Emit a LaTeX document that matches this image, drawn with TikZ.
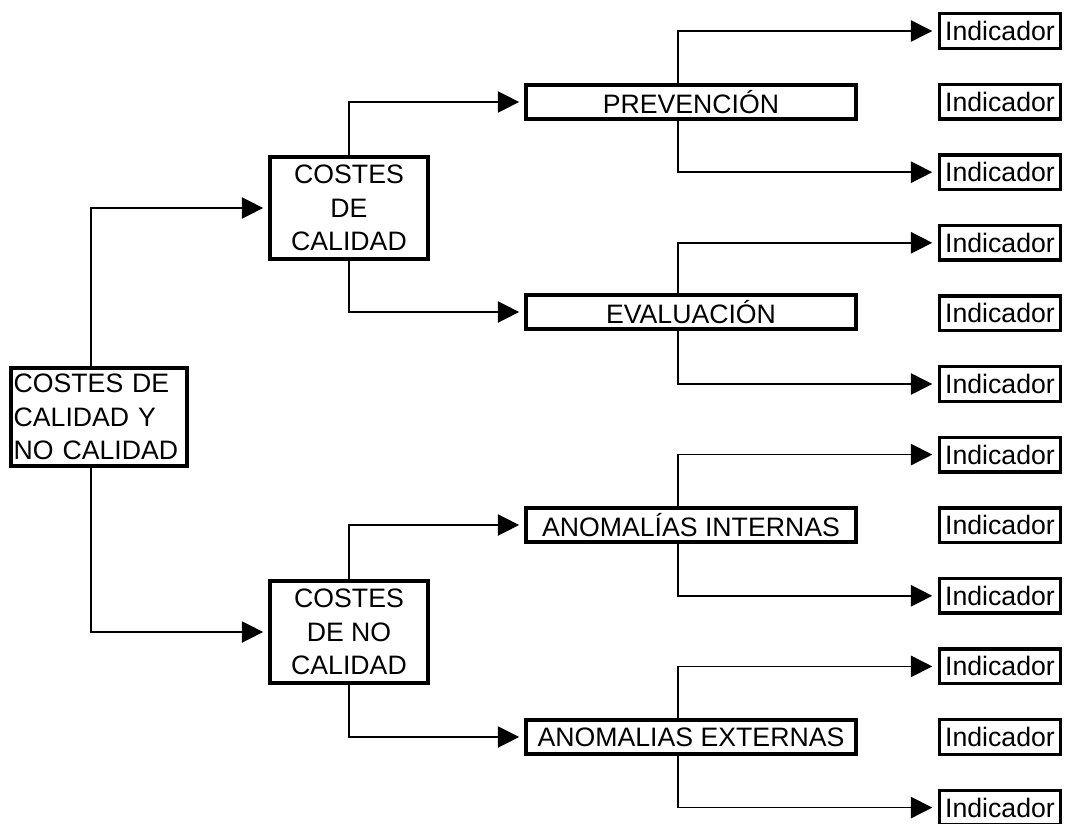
\documentclass[tikz,border=0pt]{standalone}
\usepackage{fontspec}
\setmainfont{Liberation Sans}
\usetikzlibrary{arrows.meta}
\begin{document}
\begin{tikzpicture}[x=0.75pt,y=-0.75pt,
  box/.style={draw, line width=2.8pt, font=\fontsize{20}{25}\selectfont, inner sep=2pt, fill=white},
  midbox/.style={box, minimum width=247pt, minimum height=26pt},
  indbox/.style={box, line width=2.6pt, minimum width=91pt, minimum height=26pt},
  conn/.style={line width=1.1pt, -{Triangle[length=16pt,width=16pt]}, shorten >=4pt}]
\clip (0,0) rectangle (1065,824);
\fill[white] (0,0) rectangle (1065,824);
\coordinate (mx) at (91,0);
\coordinate (bx) at (678,0);
% main boxes
\node[box, text width=128pt, align=left, minimum height=73pt] (m) at (99,417) {COSTES DE\\CALIDAD Y\\NO CALIDAD};
\node[box, align=center, minimum width=118pt, minimum height=77pt] (cc) at (349,208) {COSTES\\DE\\CALIDAD};
\node[box, align=center, minimum width=118pt, minimum height=77pt] (nc) at (349,632) {COSTES\\DE NO\\CALIDAD};
% middle boxes
\node[midbox] (prev) at (691,102) {PREVENCIÓN};
\node[midbox] (eval) at (691,312) {EVALUACIÓN};
\node[midbox] (ai) at (691,525) {ANOMALÍAS INTERNAS};
\node[midbox] (ae) at (691,737) {ANOMALIAS EXTERNAS};
% indicators
\foreach \k in {1,...,12}
  \node[indbox] (i\k) at (1000,{31+(\k-1)*70.6}) {Indicador};
% connectors
\draw[conn] (m.north -| mx) |- (cc.west);
\draw[conn] (m.south -| mx) |- (nc.west);
\draw[conn] (cc.north) |- (prev.west);
\draw[conn] (cc.south) |- (eval.west);
\draw[conn] (nc.north) |- (ai.west);
\draw[conn] (nc.south) |- (ae.west);
\draw[conn] (prev.north -| bx) |- (i1.west);
\draw[conn] (prev.south -| bx) |- (i3.west);
\draw[conn] (eval.north -| bx) |- (i4.west);
\draw[conn] (eval.south -| bx) |- (i6.west);
\draw[conn] (ai.north -| bx) |- (i7.west);
\draw[conn] (ai.south -| bx) |- (i9.west);
\draw[conn] (ae.north -| bx) |- (i10.west);
\draw[conn] (ae.south -| bx) |- (i12.west);
\end{tikzpicture}
\end{document}
